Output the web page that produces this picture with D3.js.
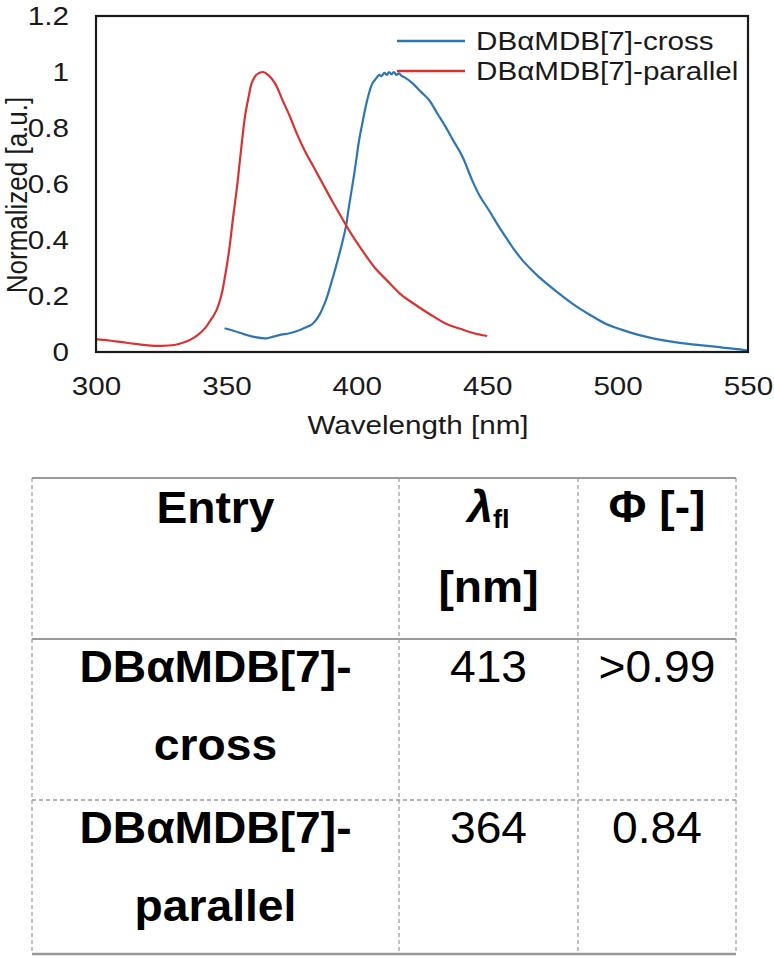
<!DOCTYPE html>
<html><head><meta charset="utf-8">
<script src="https://cdn.jsdelivr.net/npm/d3@7"></script>
<style>
body{margin:0;background:#fff}
svg{display:block}
text{font-family:"Liberation Sans",Arial,Helvetica,sans-serif}
</style>
</head><body>
<svg id="c" width="774" height="966"></svg>
<script>
// ---- data ----
const seriesNames = ["DBαMDB[7]-cross", "DBαMDB[7]-parallel"];
const seriesColors = ["#2E76B2", "#D63333"];

const crossNm  = [349.3,353,357,361,365.3,368,371,374.2,378,381,383,385.5,388.2,390,392,394,395.8,397,398.4,399.7,400.9,402.2,403.4,404.7,406,407.5,408.6,409.5,410.5,411.5,412.4,413.3,414.2,415.2,416.2,417.3,418.5,421.3,424.5,427.7,431,434,437,440.4,444.2,447,450.6,454,457,460,463.4,466.5,469.7,476,482.5,489,495.2,501.5,508,514,520.7,527,533.5,541,548.7,550];
const crossVal = [0.085,0.075,0.063,0.053,0.049,0.055,0.062,0.067,0.078,0.09,0.10,0.13,0.186,0.24,0.305,0.375,0.447,0.52,0.60,0.68,0.757,0.82,0.876,0.925,0.96,0.978,0.99,0.985,0.997,0.99,1.0,0.992,1.0,0.99,0.995,0.985,0.98,0.96,0.93,0.90,0.85,0.805,0.755,0.70,0.614,0.56,0.507,0.455,0.412,0.37,0.329,0.298,0.269,0.22,0.174,0.135,0.102,0.08,0.061,0.048,0.037,0.029,0.023,0.015,0.007,0.005];

const parallelNm  = [300,305,310,315,320,325,330,333,336,339,342,344,346,348,349,351,352.6,354.2,355.6,357.1,358.5,359.7,361.5,364,366,368.6,371.5,374.4,377,380,383.5,387,390.5,394,398,402,407,412.7,417,421.6,428,434.4,440,444.6,450];
const parallelVal = [0.046,0.041,0.035,0.029,0.024,0.022,0.025,0.032,0.043,0.06,0.087,0.115,0.145,0.2,0.245,0.36,0.483,0.60,0.72,0.84,0.91,0.96,0.99,1.0,0.99,0.96,0.90,0.84,0.78,0.72,0.66,0.60,0.54,0.483,0.42,0.364,0.30,0.245,0.205,0.174,0.135,0.10,0.082,0.068,0.057];

const xTicks = [300,350,400,450,500,550];
const yTicks = [0,0.2,0.4,0.6,0.8,1,1.2];
const yTickLabels = ["0","0.2","0.4","0.6","0.8","1","1.2"];
const xTitle = "Wavelength [nm]";
const yTitle = "Normalized [a.u.]";

const tableEntries = [["DBαMDB[7]-","cross"],["DBαMDB[7]-","parallel"]];
const lambdaValues = ["413","364"];
const phiValues = [">0.99","0.84"];

// ---- helpers ----
const SX = 1.14;   // horizontal stretch of chart text
const TSX = 1.05;  // horizontal stretch of table text
function stretch(sel, sx){
  sel.each(function(){
    const t = d3.select(this);
    const x = +t.attr("x") || 0, y = +t.attr("y") || 0;
    t.attr("x",0).attr("y",0).attr("transform",`translate(${x},${y}) scale(${sx},1)`);
  });
}

// ---- chart ----
const svg = d3.select("#c");
const L = 96, R = 748, T = 16, B = 352;
const x = d3.scaleLinear().domain([300,550]).range([L,R]);
const y = d3.scaleLinear().domain([0,1.2]).range([B,T]);

const xAxis = d3.axisBottom(x).tickValues(xTicks).tickSize(0).tickPadding(25).tickFormat(d3.format("d"));
const yAxis = d3.axisLeft(y).tickValues(yTicks).tickSize(0).tickPadding(27).tickFormat((d,i)=>yTickLabels[i]);

const gx = svg.append("g").attr("transform",`translate(0,${B})`).call(xAxis);
const gy = svg.append("g").attr("transform",`translate(${L},0)`).call(yAxis);
[gx,gy].forEach(g=>{
  g.select(".domain").remove();
  g.selectAll("text").attr("font-size",26).attr("fill","#1a1a1a")
   .style("font-family",'"Liberation Sans",Arial,sans-serif');
  stretch(g.selectAll("text"), SX);
});

const line = d3.line().x(d=>x(d[0])).y(d=>y(d[1])).curve(d3.curveCatmullRom.alpha(0.5));
const series = [d3.zip(crossNm,crossVal), d3.zip(parallelNm,parallelVal)];
svg.append("g").selectAll("path").data(series).join("path")
  .attr("d",line).attr("fill","none")
  .attr("stroke",(d,i)=>seriesColors[i]).attr("stroke-width",2.2)
  .attr("stroke-linejoin","round");

// frame
svg.append("rect").attr("x",L).attr("y",T).attr("width",R-L).attr("height",B-T)
  .attr("fill","none").attr("stroke","#1a1a1a").attr("stroke-width",2.2);

// legend
const lg = svg.append("g").selectAll("g").data(seriesNames).join("g")
  .attr("transform",(d,i)=>`translate(397,${41+i*30})`);
lg.append("line").attr("x1",0).attr("x2",68).attr("y1",0).attr("y2",0)
  .attr("stroke",(d,i)=>seriesColors[i]).attr("stroke-width",2.4);
const lt = lg.append("text").attr("x",79).attr("y",9).attr("font-size",26).attr("fill","#1a1a1a").text(d=>d);
stretch(lt, SX);

// axis titles
const xt = svg.append("text").attr("x",(L+R)/2-4).attr("y",434).attr("text-anchor","middle")
  .attr("font-size",26).attr("fill","#1a1a1a").text(xTitle);
stretch(xt, SX);
svg.append("text").attr("transform",`translate(27,195) rotate(-90) scale(1,${SX})`).attr("text-anchor","middle")
  .attr("font-size",26).attr("fill","#1a1a1a").text(yTitle);

// ---- table ----
const tx = [32,399,578,736];
const ty = [478,639,800,954];
const tg = svg.append("g");
const gray = "#9a9a9a";
tg.selectAll("line.v").data(tx).join("line").attr("class","v")
  .attr("x1",d=>d).attr("x2",d=>d).attr("y1",ty[0]).attr("y2",ty[3])
  .attr("stroke",gray).attr("stroke-width",1.2).attr("stroke-dasharray","4,3");
const hStyles = [{w:2,dash:null},{w:2,dash:null},{w:1.3,dash:"4,3"},{w:2.4,dash:null}];
tg.selectAll("line.h").data(ty).join("line").attr("class","h")
  .attr("x1",tx[0]).attr("x2",tx[3]).attr("y1",d=>d).attr("y2",d=>d)
  .attr("stroke",gray).attr("stroke-width",(d,i)=>hStyles[i].w)
  .attr("stroke-dasharray",(d,i)=>hStyles[i].dash);

const c1 = (tx[0]+tx[1])/2, c2 = (tx[1]+tx[2])/2, c3 = (tx[2]+tx[3])/2;
const FS = 44;
const tt = [];
tt.push(tg.append("text").attr("x",c1).attr("y",ty[0]+45).attr("text-anchor","middle")
  .attr("font-size",FS).attr("font-weight","bold").text("Entry"));
const lam = tg.append("text").attr("x",c2).attr("y",ty[0]+44).attr("text-anchor","middle")
  .attr("font-size",FS).attr("font-weight","bold");
lam.append("tspan").attr("font-style","italic").text("λ");
lam.append("tspan").attr("font-size",26).attr("dy",6).text("fl");
tt.push(lam);
tt.push(tg.append("text").attr("x",c2).attr("y",ty[0]+124).attr("text-anchor","middle")
  .attr("font-size",FS).attr("font-weight","bold").text("[nm]"));
tt.push(tg.append("text").attr("x",c3).attr("y",ty[0]+44).attr("text-anchor","middle")
  .attr("font-size",FS).attr("font-weight","bold").text("Φ [-]"));

tableEntries.forEach((e,i)=>{
  const top = ty[i+1];
  tt.push(tg.append("text").attr("x",c1).attr("y",top+43).attr("text-anchor","middle")
    .attr("font-size",FS).attr("font-weight","bold").text(e[0]));
  tt.push(tg.append("text").attr("x",c1).attr("y",top+121).attr("text-anchor","middle")
    .attr("font-size",FS).attr("font-weight","bold").text(e[1]));
  tt.push(tg.append("text").attr("x",c2).attr("y",top+43).attr("text-anchor","middle")
    .attr("font-size",FS).text(lambdaValues[i]));
  tt.push(tg.append("text").attr("x",c3).attr("y",top+43).attr("text-anchor","middle")
    .attr("font-size",FS).text(phiValues[i]));
});
tt.forEach(s=>stretch(s, TSX));
</script>
</body></html>
